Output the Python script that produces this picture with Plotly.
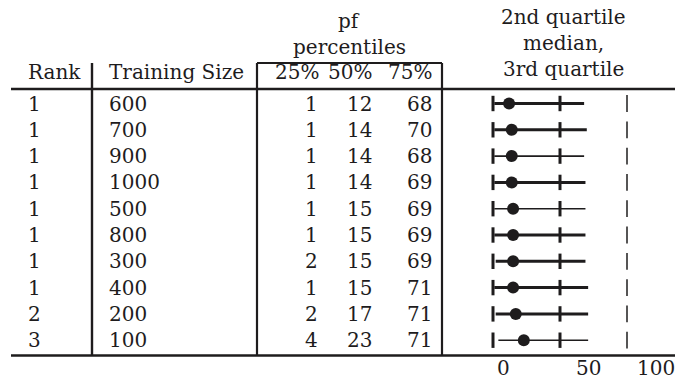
import plotly.graph_objects as go

# Table data
ranks = [1, 1, 1, 1, 1, 1, 1, 1, 2, 3]
training_sizes = [600, 700, 900, 1000, 500, 800, 300, 400, 200, 100]
q25 = [1, 1, 1, 1, 1, 1, 2, 1, 2, 4]
q50 = [12, 14, 14, 14, 15, 15, 15, 15, 17, 23]
q75 = [68, 70, 68, 69, 69, 69, 69, 71, 71, 71]
ref_ticks = [0, 50, 100]
axis_labels = ["0", "50", "100"]

W, H = 675, 381
INK = "#1e1c1d"
FONT = dict(family="DejaVu Serif", size=20, color=INK)

# pixel geometry of the layout
ROW0, ROW_STEP = 103.5, 26.3          # row centre (px) and spacing
X0_PX, PX_PER_UNIT = 493.0, 1.34      # where value 0 sits on the strip and its scale

x_range = [(0 - X0_PX) / PX_PER_UNIT, (W - X0_PX) / PX_PER_UNIT]
y_range = [(H - ROW0) / ROW_STEP, (0 - ROW0) / ROW_STEP]

def px_x(p):
    return p / W

def px_y(p):
    return 1 - p / H

line_widths = [3, 3, 1.6, 3, 1.6, 3, 3, 3, 3, 1.6]

fig = go.Figure()
n = len(ranks)

# inter-quartile spans
for i in range(n):
    fig.add_trace(go.Scatter(
        x=[q25[i], q75[i]], y=[i, i], mode="lines",
        line=dict(color=INK, width=line_widths[i]),
        hoverinfo="skip", showlegend=False))

# reference tick marks at 0 / 50 (heavy) and 100 (light)
for v in ref_ticks:
    heavy = v < 100
    fig.add_trace(go.Scatter(
        x=[v] * n, y=list(range(n)), mode="markers",
        marker=dict(symbol="line-ns", size=11 if heavy else 12,
                    line=dict(color=INK, width=3 if heavy else 1.5)),
        hoverinfo="skip", showlegend=False))

# medians
fig.add_trace(go.Scatter(
    x=q50, y=list(range(n)), mode="markers",
    marker=dict(symbol="circle", size=12, color=INK),
    hoverinfo="skip", showlegend=False))

ann = []

def text(x, y, s, xanchor="left", yref="y", yanchor="middle"):
    ann.append(dict(x=px_x(x), xref="paper", y=y, yref=yref, text=s,
                    showarrow=False, xanchor=xanchor, yanchor=yanchor,
                    font=FONT, borderpad=0))

# table body
for i in range(n):
    text(27, i, str(ranks[i]))
    text(108, i, str(training_sizes[i]))
    text(319, i, str(q25[i]), "right")
    text(373, i, str(q50[i]), "right")
    text(433, i, str(q75[i]), "right")

# header
def head(x, ypx, s, xanchor="left", yanchor="middle"):
    text(x, px_y(ypx), s, xanchor, yref="paper", yanchor=yanchor)

head(27, 72, "Rank")
head(108, 72, "Training Size")
head(274, 72, "25%")
head(327, 72, "50%")
head(387, 72, "75%")
head(349, 21, "pf", "center")
head(349, 47, "percentiles", "center")
head(563, 17, "2nd quartile", "center")
head(563, 43, "median,", "center")
head(563, 69, "3rd quartile", "center")

# axis labels under the strip, sitting on the bottom edge
for lab, xp in zip(axis_labels, [503, 588, 656]):
    head(xp, H, lab, "center", "bottom")

shapes = []

def rule(x0, y0, x1, y1, w=2.5):
    shapes.append(dict(type="line", xref="paper", yref="paper",
                       x0=px_x(x0), x1=px_x(x1), y0=px_y(y0), y1=px_y(y1),
                       line=dict(color=INK, width=w)))

rule(11, 89, W, 89, 2.6)
rule(11, 355.5, W, 355.5, 2.4)
rule(92, 63, 92, 355.5, 2.4)
rule(257, 63, 257, 355.5, 2.2)
rule(442, 63, 442, 355.5, 2.2)
rule(257, 63, 442, 63, 2.2)

fig.update_layout(
    width=W, height=H,
    margin=dict(l=0, r=0, t=0, b=0),
    paper_bgcolor="white", plot_bgcolor="white",
    xaxis=dict(range=x_range, domain=[0, 1], visible=False, fixedrange=True),
    yaxis=dict(range=y_range, domain=[0, 1], visible=False, fixedrange=True),
    annotations=ann, shapes=shapes,
)

fig.write_html("out.html")
